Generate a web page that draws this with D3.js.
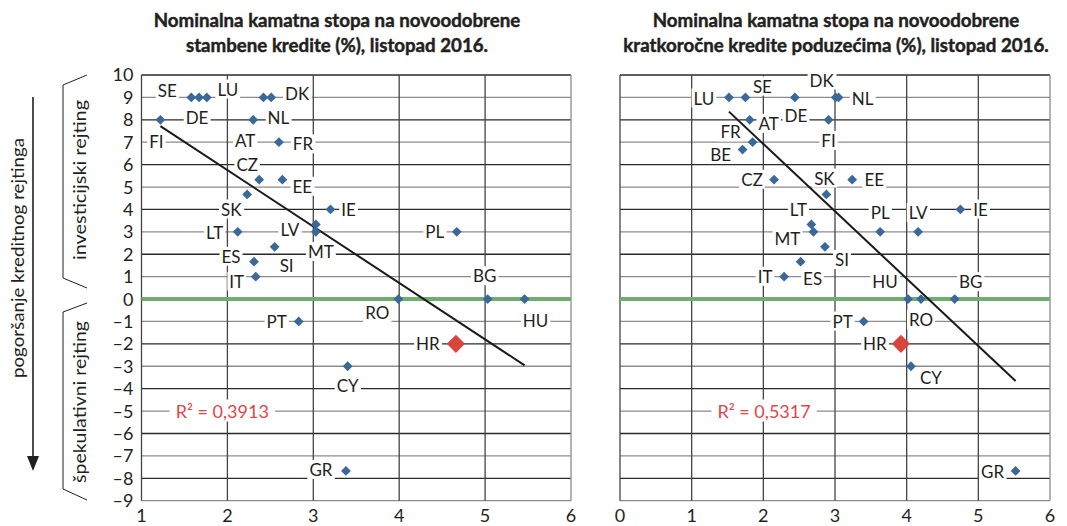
<!DOCTYPE html>
<html>
<head>
<meta charset="utf-8">
<script src="https://cdn.jsdelivr.net/npm/d3@7"></script>
<style>
body { margin: 0; background: #fff; }
svg { display: block; }
text { font-family: Lato, "Open Sans", sans-serif; fill: #231f20; }
</style>
</head>
<body>
<svg id="chart" width="1067" height="526"></svg>
<script>
// shared rating axis and the two rate axes
var ratingTicks = [10, 9, 8, 7, 6, 5, 4, 3, 2, 1, 0, -1, -2, -3, -4, -5, -6, -7, -8, -9];
var housingTicks = [1, 2, 3, 4, 5, 6];
var corporateTicks = [0, 1, 2, 3, 4, 5, 6];

// housing loans (left panel)
var housingCountries = ["SE", "DE", "LU", "NL", "DK", "FI", "AT", "FR", "CZ", "EE", "SK", "IE", "LV", "MT", "LT", "PL", "SI", "ES", "IT", "RO", "BG", "HU", "PT", "HR", "CY", "GR"];
var housingRate = [1.58, 1.67, 1.76, 2.42, 2.51, 1.22, 2.30, 2.60, 2.37, 2.64, 2.23, 3.20, 3.03, 3.03, 2.12, 4.67, 2.55, 2.31, 2.33, 3.99, 5.03, 5.46, 2.83, 4.66, 3.40, 3.38];
var housingRating = [9, 9, 9, 9, 9, 8, 8, 7, 5.33, 5.33, 4.67, 4, 3.33, 3, 3, 3, 2.33, 1.67, 1, 0, 0, 0, -1, -2, -3, -7.67];

// short-term corporate loans (right panel)
var corporateCountries = ["LU", "SE", "DE", "DK", "NL", "AT", "FI", "FR", "BE", "CZ", "EE", "SK", "IE", "LT", "MT", "PL", "LV", "SI", "ES", "IT", "HU", "RO", "BG", "PT", "HR", "CY", "GR"];
var corporateRate = [1.52, 1.75, 2.44, 3.01, 3.05, 1.81, 2.91, 1.85, 1.71, 2.15, 3.24, 2.88, 4.75, 2.67, 2.70, 3.63, 4.16, 2.86, 2.52, 2.29, 4.02, 4.20, 4.67, 3.40, 3.92, 4.06, 5.52];
var corporateRating = [9, 9, 9, 9, 9, 8, 8, 7, 6.67, 5.33, 5.33, 4.67, 4, 3.33, 3, 3, 3, 2.33, 1.67, 1, 0, 0, 0, -1, -2, -3, -7.67];

var housingR2 = "0,3913";
var corporateR2 = "0,5317";

// label placement (pixel offsets of label centre from its marker)
var housingLabelPos = {
    SE: [-24, -7], DE: [-2, 20], LU: [21, -8], NL: [15, 20], DK: [26, -4],
    FI: [-4, 22], AT: [-8, 21], FR: [24, 2], CZ: [-12, -15], EE: [20, 7],
    SK: [-16, 15], IE: [18, 0], LV: [-26, 5], MT: [5, 20], LT: [-23, 1],
    PL: [-22, 0], SI: [12, 19], ES: [-23, -5], IT: [-19, 5], RO: [-21, 14],
    BG: [-3, -23], HU: [11, 22], PT: [-22, 0], HR: [-28, 0], CY: [0, 20], GR: [-25, -1]
};
var corporateLabelPos = {
    LU: [-25, 1], SE: [17, -11], DE: [1, 18], DK: [-14, -17], NL: [24, 1],
    AT: [19, 4], FI: [0, 21], FR: [-22, -10], BE: [-22, 5], CZ: [-22, 0],
    EE: [22, 0], SK: [-2, -16], IE: [20, 0], LT: [-13, -15], MT: [-26, 7],
    PL: [0, -19], LV: [0, -19], SI: [17, 13], ES: [12, 17], IT: [-19, 0],
    HU: [-23, -17], RO: [0, 21], BG: [16, -17], PT: [-21, 0], HR: [-26, 0],
    CY: [20, 12], GR: [-23, 1]
};

var svg = d3.select("#chart");

/** One scatter panel: rate on x, rating on y. */
class Panel
{
    constructor(opts)
    {
        this.opts = opts;
        this.x = d3.scaleLinear().domain(d3.extent(opts.xTicks)).range([opts.left, opts.right]);
        this.y = d3.scaleLinear().domain([-9, 10]).range([500.7, 75]);
        this.g = svg.append("g");
    }

    draw()
    {
        var o = this.opts, x = this.x, y = this.y, g = this.g;

        // horizontal grid, odd lines lighter
        g.selectAll(".hgrid").data(ratingTicks).enter()
            .append("line")
            .attr("x1", x.range()[0]).attr("x2", x.range()[1])
            .attr("y1", d => y(d)).attr("y2", d => y(d))
            .attr("stroke", d => (Math.abs(d) % 2 == 1) ? "#8c8c8c" : "#2a2a2a")
            .attr("stroke-width", 1.3);

        g.selectAll(".vgrid").data(o.xTicks).enter()
            .append("line")
            .attr("x1", d => x(d)).attr("x2", d => x(d))
            .attr("y1", y(10)).attr("y2", y(-9))
            .attr("stroke", (d, i) => i == o.xTicks.length - 1 ? "#8c8c8c" : "#444")
            .attr("stroke-width", 1.3);

        // investment / speculative threshold
        g.append("line")
            .attr("x1", x.range()[0]).attr("x2", x.range()[1])
            .attr("y1", y(0)).attr("y2", y(0))
            .attr("stroke", "#70ae6f")
            .attr("stroke-width", 4);

        if (o.yLabels)
        {
            g.selectAll(".ytick").data(ratingTicks).enter()
                .append("text")
                .attr("x", x.range()[0] - 8)
                .attr("y", d => y(d))
                .attr("dy", "0.36em")
                .attr("text-anchor", "end")
                .style("font-size", "18px")
                .text(d => d < 0 ? "\u2013" + Math.abs(d) : d);
        }

        g.selectAll(".xtick").data(o.xTicks).enter()
            .append("text")
            .attr("x", d => x(d))
            .attr("y", 522)
            .attr("text-anchor", "middle")
            .style("font-size", "18px")
            .text(d => d);

        // country labels on white boxes
        var pts = o.countries.map((c, i) => ({ c: c, vx: o.rate[i], vy: o.rating[i] }));
        pts.forEach(function(p)
        {
            var off = o.labelPos[p.c];
            var lg = g.append("g");
            var t = lg.append("text")
                .attr("x", x(p.vx) + off[0])
                .attr("y", y(p.vy) + off[1])
                .attr("dy", "0.36em")
                .attr("text-anchor", "middle")
                .style("font-size", "17px")
                .text(p.c);
            var bb = t.node().getBBox();
            lg.insert("rect", "text")
                .attr("x", bb.x - 2).attr("y", bb.y + 1)
                .attr("width", bb.width + 4).attr("height", bb.height - 2)
                .attr("fill", "#fff");
        });

        // least squares fit, drawn over the data range
        var mx = d3.mean(o.rate), my = d3.mean(o.rating);
        var b = d3.sum(o.rate, (v, i) => (v - mx) * (o.rating[i] - my)) / d3.sum(o.rate, v => (v - mx) * (v - mx));
        var a = my - b * mx;
        var x0 = d3.min(o.rate), x1 = d3.max(o.rate);
        g.append("line")
            .attr("x1", x(x0)).attr("y1", y(a + b * x0))
            .attr("x2", x(x1)).attr("y2", y(a + b * x1))
            .attr("stroke", "#1a1a1a")
            .attr("stroke-width", 2);

        g.selectAll(".pt").data(pts).enter()
            .append("path")
            .attr("d", p => d3.symbol().type(d3.symbolSquare).size(p.c == "HR" ? 165 : 48)())
            .attr("transform", p => "translate(" + x(p.vx) + "," + y(p.vy) + ") rotate(45)")
            .attr("fill", p => p.c == "HR" ? "#d9443c" : "#3a6898");

        // R squared note
        var rg = g.append("g");
        var rt = rg.append("text")
            .attr("x", x(o.r2At[0]))
            .attr("y", y(o.r2At[1]))
            .attr("dy", "0.36em")
            .attr("text-anchor", "middle")
            .style("font-size", "18px")
            .style("fill", "#e0464a")
            .text("R\u00B2 = " + o.r2);
        var rb = rt.node().getBBox();
        rg.insert("rect", "text")
            .attr("x", rb.x - 6).attr("y", rb.y)
            .attr("width", rb.width + 12).attr("height", rb.height)
            .attr("fill", "#fff");

        // title (stroke thickens Lato bold a little)
        o.title.forEach(function(line, i)
        {
            g.append("text")
                .attr("x", o.titleX).attr("y", 27 + i * 25)
                .attr("text-anchor", "middle")
                .style("font-size", "18.7px").style("font-weight", "bold")
                .style("stroke", "#231f20").style("stroke-width", 0.45)
                .text(line);
        });
    }
}

new Panel({
    left: 141.5, right: 571, xTicks: housingTicks, yLabels: true,
    countries: housingCountries, rate: housingRate, rating: housingRating,
    labelPos: housingLabelPos, r2: housingR2, r2At: [1.94, -5],
    titleX: 337,
    title: ["Nominalna kamatna stopa na novoodobrene", "stambene kredite (%), listopad 2016."]
}).draw();

new Panel({
    left: 620, right: 1050, xTicks: corporateTicks, yLabels: false,
    countries: corporateCountries, rate: corporateRate, rating: corporateRating,
    labelPos: corporateLabelPos, r2: corporateR2, r2At: [2.01, -5],
    titleX: 836,
    title: ["Nominalna kamatna stopa na novoodobrene", "kratkoročne kredite poduzećima (%), listopad 2016."]
}).draw();

// rating side notes
var side = svg.append("g");
side.append("line")
    .attr("x1", 33).attr("x2", 33).attr("y1", 97).attr("y2", 458)
    .attr("stroke", "#231f20").attr("stroke-width", 1.6);
side.append("path")
    .attr("d", "M27,456 L39,456 L33,471 Z")
    .attr("fill", "#231f20");

var bracket = d3.line();
side.append("path")
    .attr("d", bracket([[87, 75], [63, 85], [63, 278], [87, 288]]))
    .attr("fill", "none").attr("stroke", "#231f20").attr("stroke-width", 1);
side.append("path")
    .attr("d", bracket([[87, 303], [63, 312], [63, 489], [87, 500]]))
    .attr("fill", "none").attr("stroke", "#231f20").attr("stroke-width", 1);

var sideNotes = [
    { text: "pogoršanje kreditnog rejtinga", x: 24, y: 258, len: 240 },
    { text: "investicijski rejting", x: 86, y: 180, len: 160 },
    { text: "špekulativni rejting", x: 86, y: 402, len: 162 }
];
sideNotes.forEach(function(n)
{
    side.append("text")
        .attr("transform", "translate(" + n.x + "," + n.y + ") rotate(-90)")
        .attr("text-anchor", "middle")
        .attr("textLength", n.len)
        .attr("lengthAdjust", "spacingAndGlyphs")
        .style("font-size", "17.5px")
        .text(n.text);
});
</script>
</body>
</html>
